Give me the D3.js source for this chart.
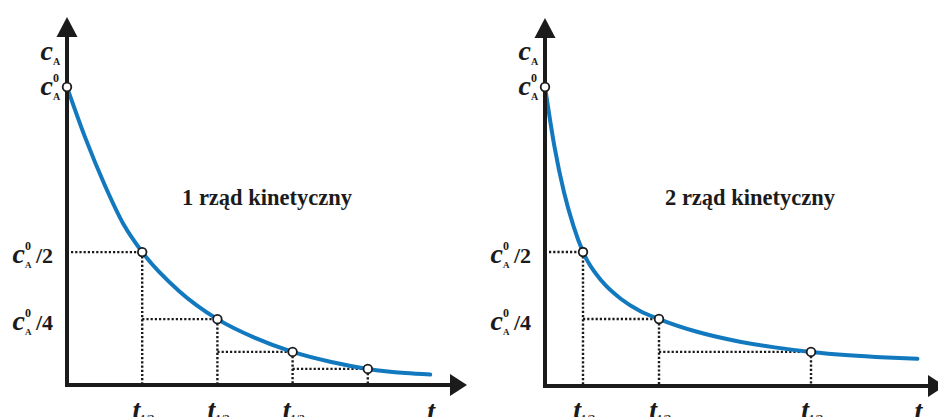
<!DOCTYPE html>
<html><head><meta charset="utf-8">
<script src="https://cdn.jsdelivr.net/npm/d3@7"></script>
<style>body{margin:0;background:#fff;} svg{display:block}</style>
</head><body><svg id="chart" width="938" height="417"></svg>
<script>
// ---------- data (concentration as fraction of c0 on a linear axis) ----------
const titles = ["1 rząd kinetyczny", "2 rząd kinetyczny"];
const order1Time = [0, 0.25, 0.5, 0.75, 1, 1.5, 2, 2.5, 3, 3.5, 4, 4.5, 4.83];
const order1Conc = [1.0, 0.825, 0.672, 0.540, 0.446, 0.313, 0.221, 0.158, 0.111, 0.078, 0.054, 0.040, 0.035];
const order1HalfTimes = [1, 2, 3, 4];
const order1HalfConc = [0.446, 0.221, 0.111, 0.054];
const order2Time = [0, 0.25, 0.5, 0.75, 1, 1.5, 2, 2.5, 3, 4, 5, 6, 7, 8, 9, 9.8];
const order2Conc = [1.0, 0.80, 0.648, 0.535, 0.448, 0.350, 0.291, 0.251, 0.224, 0.1815, 0.1515, 0.130, 0.114, 0.103, 0.0955, 0.091];
const order2HalfTimes = [1, 3, 7];
const order2HalfConc = [0.448, 0.224, 0.114];
const yTickLabels = ["/2", "/4"];
const xTickMain = "t";
const xTickSub = "1/2";
const cSymbol = "c", cSub = "A", cSup = "0", tSymbol = "t";

// ---------- layout ----------
const FONT = "'Liberation Serif', 'Times New Roman', serif";
const BLUE = "#1279bf", INK = "#1b1b1b";
const panels = [
  {title: titles[0], time: order1Time, conc: order1Conc, ht: order1HalfTimes, hc: order1HalfConc,
   xDomain: [0, 5], xRange: [67, 443], yRange: [385, 87], yTip: 17, xTip: 467, titleX: 182},
  {title: titles[1], time: order2Time, conc: order2Conc, ht: order2HalfTimes, hc: order2HalfConc,
   xDomain: [0, 10], xRange: [545, 925], yRange: [386, 87], yTip: 18, xTip: 945, titleX: 665}
];

const svg = d3.select("#chart");

function txt(g, s, x, y, size, opts = {}) {
  return g.append("text").attr("x", x).attr("y", y)
    .attr("text-anchor", opts.anchor || "start")
    .style("font-family", FONT).style("font-weight", "bold")
    .style("font-style", opts.italic ? "italic" : "normal")
    .style("font-size", size + "px").attr("fill", INK).text(s);
}

function cLabel(g, right, baseline, withZero, big) {
  txt(g, cSymbol, right - 8, baseline, 28, {anchor: "end", italic: true});
  txt(g, cSub, right - 8, baseline + 5, big ? 10 : 9);
  if (withZero) txt(g, cSup, right - 8, baseline - 13, 12);
}

panels.forEach(p => {
  const x = d3.scaleLinear().domain(p.xDomain).range(p.xRange);
  const y = d3.scaleLinear().domain([0, 1]).range(p.yRange);
  const ax = x(0), ay = y(0);
  const g = svg.append("g");

  // dotted guide lines
  p.ht.forEach((t, i) => {
    const prev = i === 0 ? 0 : p.ht[i - 1];
    g.append("line")
      .attr("x1", x(prev) + (i === 0 ? 4 : 0)).attr("x2", x(t))
      .attr("y1", y(p.hc[i])).attr("y2", y(p.hc[i]))
      .attr("stroke", INK).attr("stroke-width", 2.4).attr("stroke-dasharray", "2.2,2");
    g.append("line")
      .attr("x1", x(t)).attr("x2", x(t))
      .attr("y1", y(p.hc[i])).attr("y2", ay - 2)
      .attr("stroke", INK).attr("stroke-width", 2.4).attr("stroke-dasharray", "2.2,2");
  });

  // curve
  const line = d3.line().x((d, i) => x(p.time[i])).y(d => y(d)).curve(d3.curveMonotoneX);
  g.append("path").datum(p.conc).attr("d", line)
    .attr("fill", "none").attr("stroke", BLUE).attr("stroke-width", 4).attr("stroke-linecap", "round");

  // axes
  g.append("line").attr("x1", ax).attr("x2", ax).attr("y1", p.yTip + 15).attr("y2", ay + 2)
    .attr("stroke", INK).attr("stroke-width", 4);
  g.append("line").attr("x1", ax - 2).attr("x2", p.xTip - 10).attr("y1", ay).attr("y2", ay)
    .attr("stroke", INK).attr("stroke-width", 4);
  g.append("path").attr("d", d3.line()([[ax - 10.5, p.yTip + 20], [ax, p.yTip], [ax + 10.5, p.yTip + 20]]) + "Z")
    .attr("fill", INK);
  g.append("path").attr("d", d3.line()([[p.xTip - 17, ay - 11], [p.xTip, ay], [p.xTip - 17, ay + 11]]) + "Z")
    .attr("fill", INK);

  // points
  const pts = [[0, 1]].concat(p.ht.map((t, i) => [t, p.hc[i]]));
  g.selectAll("circle").data(pts).join("circle")
    .attr("cx", d => x(d[0])).attr("cy", d => y(d[1])).attr("r", 4.3)
    .attr("fill", "#fff").attr("stroke", INK).attr("stroke-width", 1.8);

  // y labels
  cLabel(g, ax - 6, 60, false, true);
  cLabel(g, ax - 6, y(1) + 8, true, true);
  yTickLabels.forEach((lab, i) => {
    const yy = y(p.hc[i]) + 11;
    cLabel(g, ax - 34, yy, true, false);
    txt(g, lab, ax - 31, yy, 22);
  });

  // x labels (cut by the bottom edge, as in the reference)
  p.ht.slice(0, 3).forEach(t => {
    txt(g, xTickMain, x(t) - 2, 419, 28, {anchor: "end", italic: true});
    txt(g, xTickSub, x(t) - 2, 422, 11);
  });
  txt(g, tSymbol, x(p.time[p.time.length - 1]) + 1, 420, 28, {anchor: "middle", italic: true});

  // title
  txt(g, p.title, p.titleX, 205, 22.5);
});
</script></body></html>
